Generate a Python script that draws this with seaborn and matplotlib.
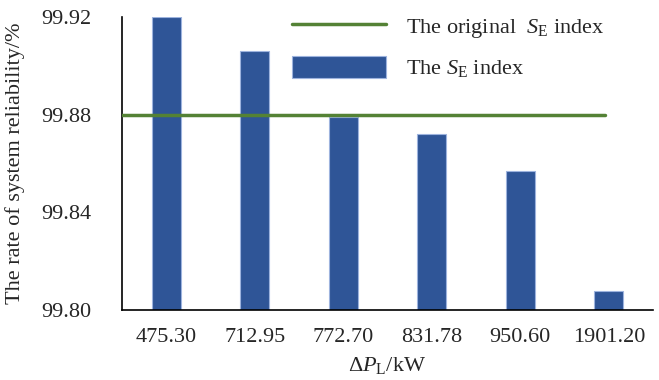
import pandas as pd
import seaborn as sns
import matplotlib.pyplot as plt

sns.set_style("white")
plt.rcParams['font.family'] = ['Liberation Serif', 'DejaVu Serif']
plt.rcParams['mathtext.fontset'] = 'custom'
plt.rcParams['mathtext.rm'] = 'Liberation Serif'
plt.rcParams['mathtext.it'] = 'Liberation Serif:italic'

# data
delta_pl = ["475.30", "712.95", "772.70", "831.78", "950.60", "1901.20"]
se_index = [99.920, 99.906, 99.879, 99.872, 99.857, 99.808]
se_original = 99.88

df = pd.DataFrame({"dpl": delta_pl, "se": se_index})

fig = plt.figure(figsize=(6.59, 3.8), dpi=100)
ax = fig.add_axes([0.185, 0.184, 0.806, 0.771])

sns.barplot(data=df, x="dpl", y="se", color="#2F5597", saturation=1,
            width=0.33, ax=ax, label=r"The $S_{\rm E}$ index", zorder=2,
            edgecolor="#9DB3DE", linewidth=0.8)
ax.plot([-0.5, 4.96], [se_original, se_original], color="#548235", lw=2.5,
        label=r"The original  $S_{\rm E}$ index", zorder=3)

ax.set_xlim(-0.5, 5.5)
ax.set_ylim(99.80, 99.92)
ax.set_yticks([99.80, 99.84, 99.88, 99.92])
ax.set_yticklabels(["99.80", "99.84", "99.88", "99.92"])
ax.tick_params(axis="both", labelsize=16, length=0)
ax.tick_params(axis="x", pad=13)
ax.tick_params(axis="y", pad=22)

for side in ["top", "right"]:
    ax.spines[side].set_visible(False)
for side in ["left", "bottom"]:
    ax.spines[side].set_color("black")
    ax.spines[side].set_linewidth(1.2)

ax.set_xlabel(r"$\Delta P_{\rm L}$/kW", fontsize=16, labelpad=6)
ax.set_ylabel("The rate of system reliability/%", fontsize=16, labelpad=12)

handles, labels = ax.get_legend_handles_labels()
order = [labels.index(l) for l in [r"The original  $S_{\rm E}$ index", r"The $S_{\rm E}$ index"]]
ax.legend([handles[i] for i in order], [labels[i] for i in order],
          loc="upper left", bbox_to_anchor=(0.283, 1.077), frameon=False,
          fontsize=16, handlelength=4.2, handleheight=1.15, handletextpad=0.9,
          labelspacing=0.7)

plt.savefig("out.png", dpi=100)
